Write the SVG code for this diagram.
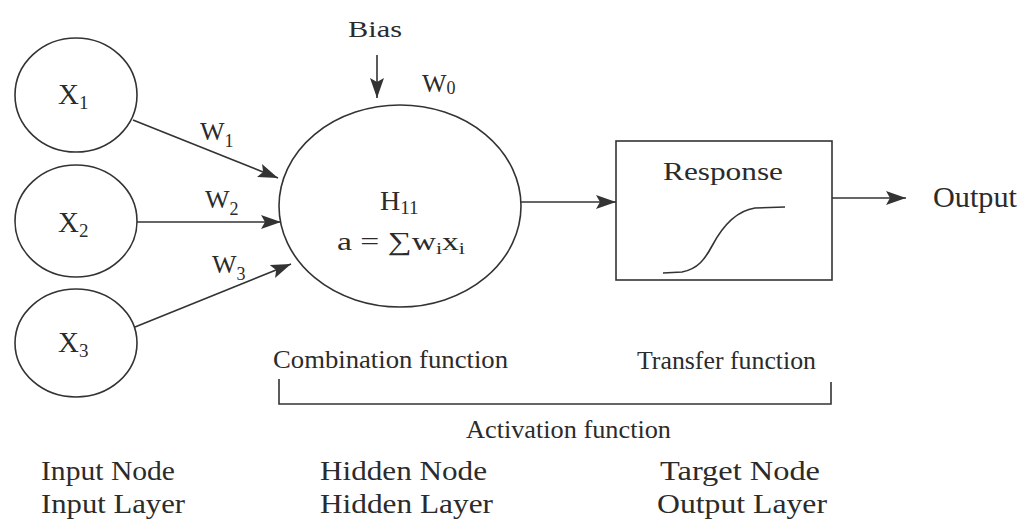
<svg xmlns="http://www.w3.org/2000/svg" width="1023" height="524" viewBox="0 0 1023 524">
<style>
text{font-family:"Liberation Serif","Times New Roman",serif;fill:#2b2b2b;}
.node{fill:#ffffff;stroke:#333;stroke-width:1.6;}
.conn{stroke:#333;stroke-width:1.6;fill:none;}
.lbl{font-size:28px;}
.mid{font-size:25px;}
.w{font-size:26px;}
.sub{font-size:18px;}
</style>
<defs>
<marker id="ah" viewBox="0 0 20 14" refX="20" refY="7" markerWidth="20" markerHeight="14" markerUnits="userSpaceOnUse" orient="auto">
<path d="M0,0 L20,7 L0,14 L4,7 Z" fill="#333"/>
</marker>
</defs>
<rect width="1023" height="524" fill="#ffffff"/>

<g id="connectors">
<line class="conn" x1="133" y1="120" x2="278" y2="178" marker-end="url(#ah)"/>
<line class="conn" x1="136" y1="222" x2="281" y2="222" marker-end="url(#ah)"/>
<line class="conn" x1="135" y1="327" x2="291" y2="264" marker-end="url(#ah)"/>
<line class="conn" x1="377" y1="55" x2="377" y2="98" marker-end="url(#ah)"/>
<line class="conn" x1="521" y1="202" x2="616" y2="202" marker-end="url(#ah)"/>
<line class="conn" x1="832" y1="198" x2="906" y2="198" marker-end="url(#ah)"/>
<text class="w" x="200" y="140">W<tspan class="sub" dy="7">1</tspan></text>
<text class="w" x="205" y="208">W<tspan class="sub" dy="7">2</tspan></text>
<text class="w" x="212" y="273">W<tspan class="sub" dy="7">3</tspan></text>
<text class="w" x="422" y="92">W<tspan class="sub" dy="2">0</tspan></text>
</g>

<g id="x1">
<ellipse class="node" cx="76" cy="95" rx="61" ry="57"/>
<text x="58" y="104" font-size="29">X<tspan font-size="19" dy="5">1</tspan></text>
</g>
<g id="x2">
<ellipse class="node" cx="76" cy="221" rx="61" ry="56"/>
<text x="58" y="232" font-size="29">X<tspan font-size="19" dy="5">2</tspan></text>
</g>
<g id="x3">
<ellipse class="node" cx="76" cy="343" rx="61" ry="54"/>
<text x="58" y="352" font-size="29">X<tspan font-size="19" dy="5">3</tspan></text>
</g>

<g id="bias">
<text x="348" y="37" font-size="23" textLength="54" lengthAdjust="spacingAndGlyphs">Bias</text>
</g>

<g id="hidden">
<ellipse class="node" cx="400" cy="206" rx="121" ry="101"/>
<text x="380" y="210" font-size="28">H<tspan font-size="19" dy="4">11</tspan></text>
<text x="337" y="250" font-size="26" textLength="128" lengthAdjust="spacingAndGlyphs">a = ∑w<tspan font-size="17" dy="4">i</tspan><tspan dy="-4">x</tspan><tspan font-size="17" dy="4">i</tspan></text>
</g>

<g id="response">
<rect class="node" x="616" y="141" width="216" height="139"/>
<text x="663" y="180" font-size="26" textLength="120" lengthAdjust="spacingAndGlyphs">Response</text>
<path class="conn" d="M663,273 L682,272 C698,269 705,259 712,246 C722,227 735,211 755,208 L785,207"/>
</g>

<g id="output">
<text x="933" y="207" font-size="30" textLength="84" lengthAdjust="spacingAndGlyphs">Output</text>
</g>

<g id="activation">
<text class="mid" x="273" y="368" textLength="235" lengthAdjust="spacingAndGlyphs">Combination function</text>
<text class="mid" x="637" y="369" textLength="179" lengthAdjust="spacingAndGlyphs">Transfer function</text>
<path class="conn" d="M279,379 L279,404 L831,404 L831,382"/>
<text class="mid" x="466" y="438" textLength="205" lengthAdjust="spacingAndGlyphs">Activation function</text>
</g>

<g id="legend">
<text class="lbl" x="41" y="480" textLength="134" lengthAdjust="spacingAndGlyphs">Input Node</text>
<text class="lbl" x="41" y="513" textLength="144" lengthAdjust="spacingAndGlyphs">Input Layer</text>
<text class="lbl" x="320" y="480" textLength="167" lengthAdjust="spacingAndGlyphs">Hidden Node</text>
<text class="lbl" x="320" y="513" textLength="173" lengthAdjust="spacingAndGlyphs">Hidden Layer</text>
<text class="lbl" x="660" y="480" textLength="160" lengthAdjust="spacingAndGlyphs">Target Node</text>
<text class="lbl" x="657" y="513" textLength="170" lengthAdjust="spacingAndGlyphs">Output Layer</text>
</g>
</svg>
